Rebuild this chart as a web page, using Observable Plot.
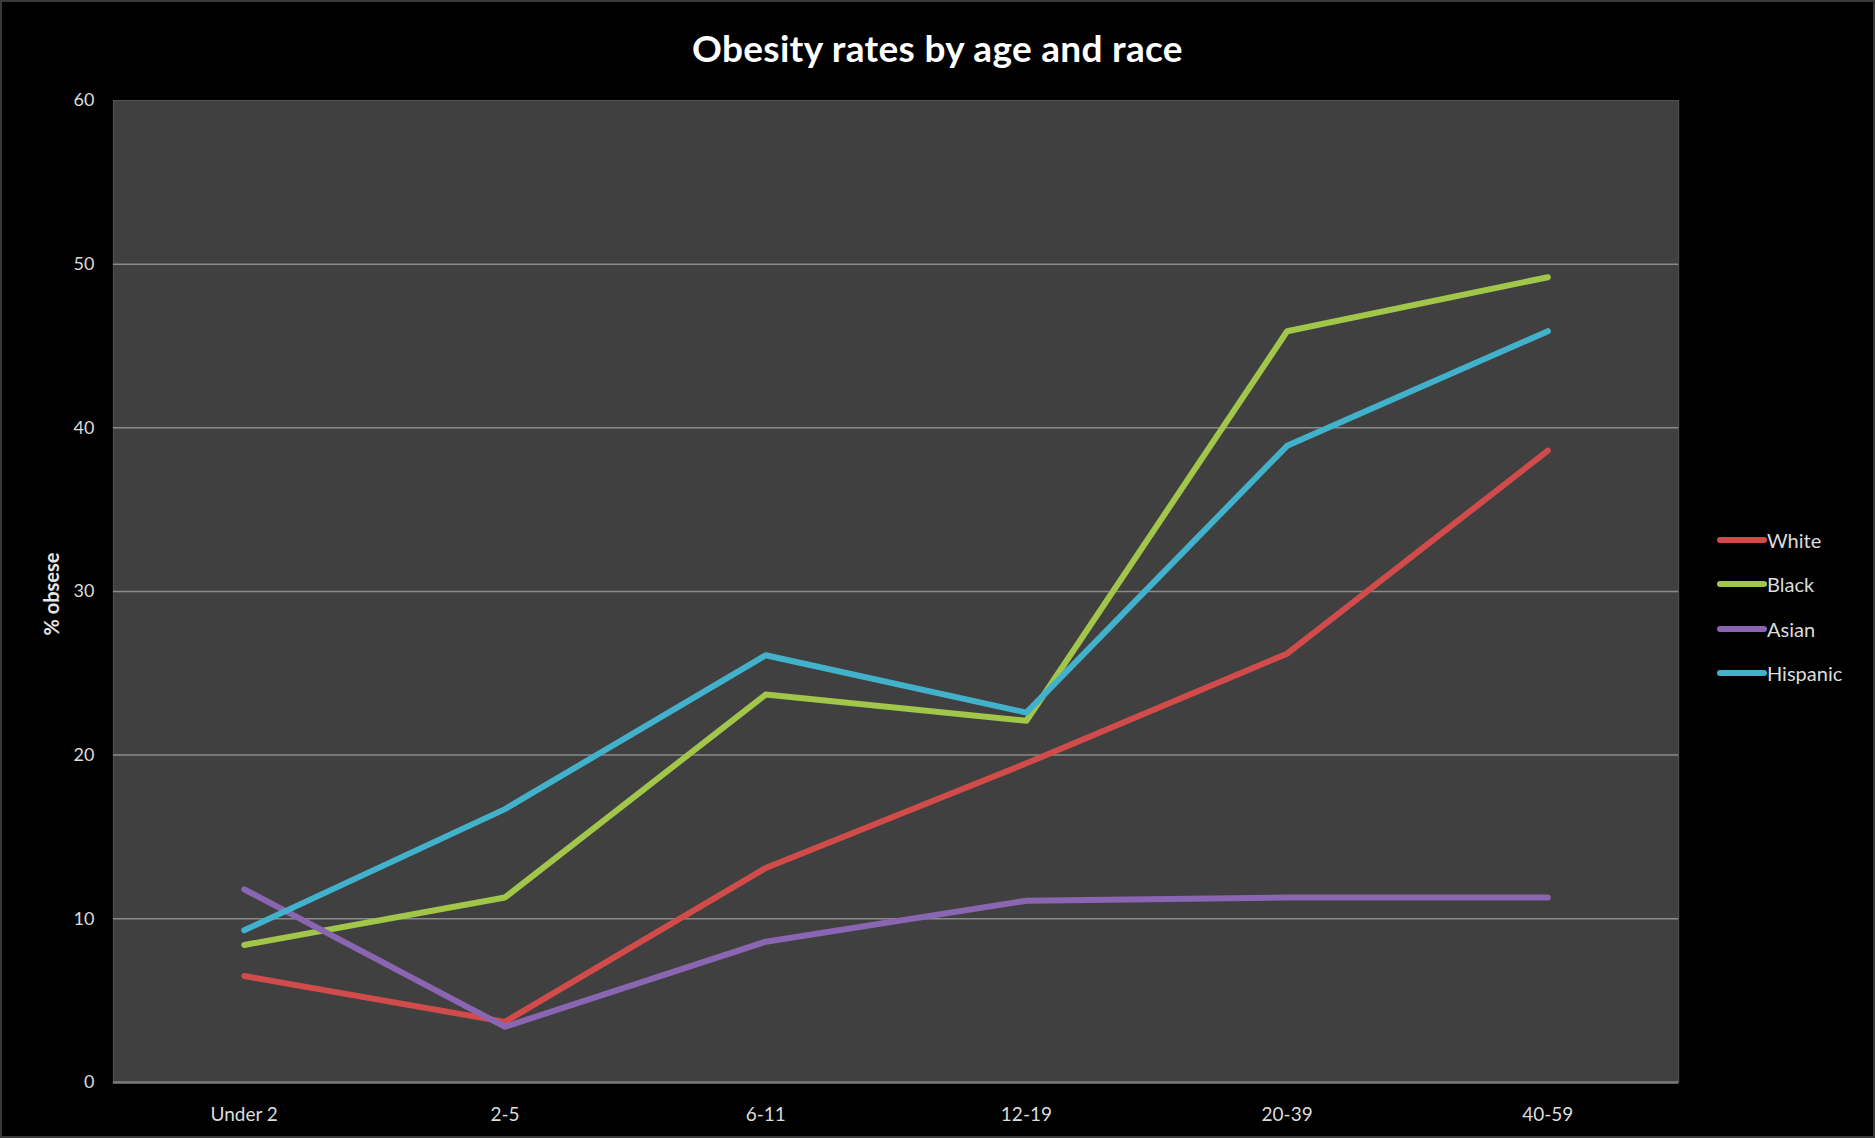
<!DOCTYPE html>
<html>
<head>
<meta charset="utf-8">
<script src="https://cdn.jsdelivr.net/npm/d3@7"></script>
<script src="https://cdn.jsdelivr.net/npm/@observablehq/plot@0.6"></script>
<style>
  html, body { margin: 0; padding: 0; background: #000; }
  #wrap { position: relative; width: 1875px; height: 1138px; background: #000; box-sizing: border-box; border: 2px solid #3a3a3a; overflow: hidden; font-family: Lato, "Open Sans", sans-serif; }
  #title { position: absolute; left: 0; top: 0; width: 1871px; height: 80px; line-height: 92px; text-align: center; color: #fff; font-weight: 700; font-size: 37px; letter-spacing: 0.3px; }
  #chart { position: absolute; left: -2px; top: 78px; }
  #ylabel { position: absolute; left: 49px; top: 592px; transform: translate(-50%, -50%) rotate(-90deg); color: #e6e6e6; font-weight: 700; font-size: 20px; white-space: nowrap; }
  #legend { position: absolute; left: 1715px; top: 516px; }
  .row { display: flex; align-items: center; height: 44.3px; }
  .sw { width: 50px; height: 6px; border-radius: 3px; }
  .lab { color: #dcdcdc; font-size: 20px; margin-left: 0px; }
</style>
</head>
<body>
<div id="wrap">
  <div id="title">Obesity rates by age and race</div>
  <div id="chart"></div>
  <div id="ylabel">% obsese</div>
  <div id="legend"></div>
</div>
<script>
const ageGroups = ["Under 2", "2-5", "6-11", "12-19", "20-39", "40-59"];
const seriesNames = ["White", "Black", "Asian", "Hispanic"];
const white    = [6.5, 3.7, 13.1, 19.5, 26.2, 38.6];
const black    = [8.4, 11.3, 23.7, 22.1, 45.9, 49.2];
const asian    = [11.8, 3.4, 8.6, 11.1, 11.3, 11.3];
const hispanic = [9.3, 16.7, 26.1, 22.6, 38.9, 45.9];
const yTicks = [0, 10, 20, 30, 40, 50, 60];
const gridTicks = [10, 20, 30, 40, 50];
const colors = ["#d24b4b", "#a2c64a", "#8a66b2", "#42b2cc"];

const seriesValues = [white, black, asian, hispanic];
const data = [];
seriesNames.forEach((s, i) => {
  ageGroups.forEach((a, j) => data.push({race: s, age: a, value: seriesValues[i][j]}));
});

const chart = Plot.plot({
  width: 1875,
  height: 1058,
  marginLeft: 113,
  marginRight: 195,
  marginTop: 20,
  marginBottom: 55,
  style: { background: "transparent", color: "#dcdcdc", fontFamily: "Lato, 'Open Sans', sans-serif" },
  x: { type: "point", domain: ageGroups, padding: 0.5 },
  y: { domain: [0, 60] },
  color: { domain: seriesNames, range: colors },
  marks: [
    Plot.frame({ fill: "#404040", stroke: "#555" }),
    Plot.ruleY(gridTicks, { stroke: "#8a8a8a", strokeWidth: 1.5 }),
    Plot.ruleY([0], { stroke: "#7a7a7a", strokeWidth: 2.5 }),
    Plot.axisY(yTicks, { tickSize: 0, tickPadding: 19, fontSize: 18, label: null }),
    Plot.axisX({ tickSize: 0, tickPadding: 25, fontSize: 19, label: null }),
    Plot.line(data, { x: "age", y: "value", stroke: "race", z: "race", strokeWidth: 6, strokeLinejoin: "round", strokeLinecap: "round" })
  ]
});
document.getElementById("chart").appendChild(chart);

const legend = document.getElementById("legend");
seriesNames.forEach((s, i) => {
  const row = document.createElement("div");
  row.className = "row";
  const sw = document.createElement("div");
  sw.className = "sw";
  sw.style.background = colors[i];
  const lab = document.createElement("span");
  lab.className = "lab";
  lab.textContent = s;
  row.appendChild(sw);
  row.appendChild(lab);
  legend.appendChild(row);
});
</script>
</body>
</html>
